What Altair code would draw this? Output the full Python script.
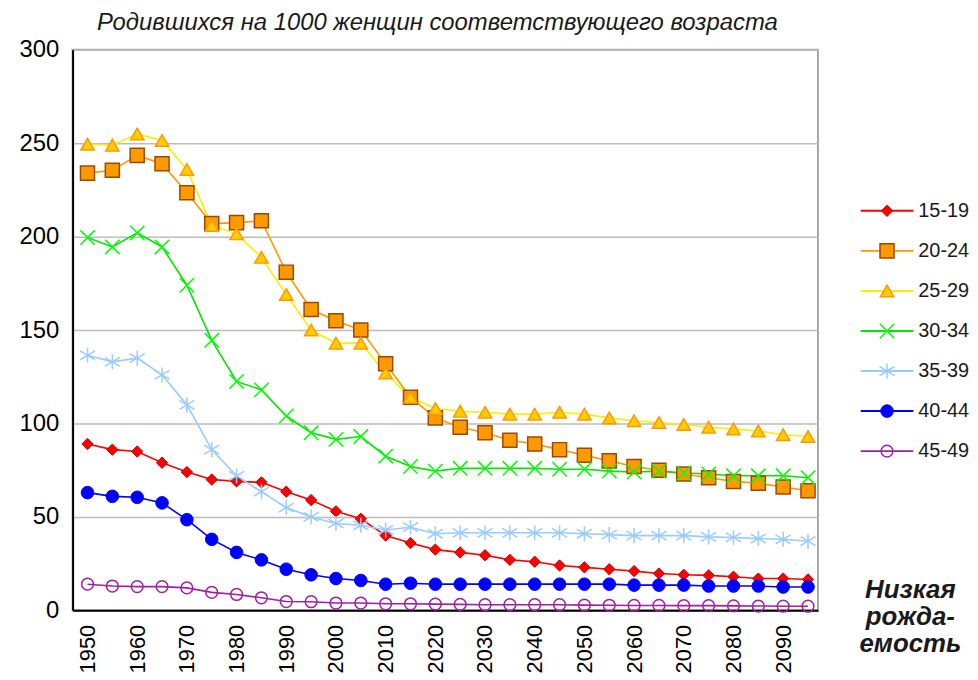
import altair as alt
import pandas as pd

years = [1950, 1955, 1960, 1965, 1970, 1975, 1980, 1985, 1990, 1995,
         2000, 2005, 2010, 2015, 2020, 2025, 2030, 2035, 2040, 2045,
         2050, 2055, 2060, 2065, 2070, 2075, 2080, 2085, 2090, 2095]

series_names = ["15-19", "20-24", "25-29", "30-34", "35-39", "40-44", "45-49"]

s15_19 = [89, 86, 85, 79, 74, 70, 69, 68.5, 63.5, 59, 53, 49, 40, 36, 32.5,
          31, 29.5, 27, 26, 24, 23, 22, 21, 19.7, 19, 18.7, 18, 17, 17, 16.5]
s20_24 = [234, 235.5, 243.5, 239, 223.5, 207, 207.5, 208.5, 181, 161, 155, 150,
          132, 114, 103, 98, 95, 91, 89, 86, 83, 80, 77, 75, 73, 71, 69, 68, 66, 64]
s25_29 = [249.5, 249, 255, 251.5, 236, 206, 201.5, 189, 169, 150, 143, 143, 127,
          114, 108, 106.5, 106, 105, 105, 106, 105, 103, 101.5, 100.5, 99.5, 98,
          97, 96, 94, 93]
s30_34 = [199.5, 194.5, 202, 194.5, 174, 144.5, 122.5, 118, 104, 95, 91.5, 93,
          82.5, 77, 74.5, 76, 76, 76, 76, 75.5, 75.5, 74.5, 74, 74.5, 73.5, 73,
          72, 72, 72, 71]
s35_39 = [136.5, 133, 135, 126, 110, 86, 72, 63.5, 55, 50, 46.5, 45.5, 43, 44.5,
          41, 41.5, 41.5, 41.5, 41.5, 41.5, 41, 40.5, 40, 40, 40, 39.3, 39, 38.4,
          38, 37]
s40_44 = [63, 61, 60.5, 57.5, 48.5, 38, 31, 27, 22, 19, 17, 16, 14, 14.5, 14,
          14, 14, 14, 14, 14, 14, 14, 13.5, 13.5, 13.5, 13, 13, 13, 12.5, 12.5]
s45_49 = [14, 13, 12.7, 12.7, 12, 9.6, 8.5, 6.7, 4.7, 4.6, 3.9, 3.9, 3.5, 3.5,
          3.3, 3.2, 3, 3, 3, 3, 2.8, 2.7, 2.6, 2.6, 2.5, 2.5, 2.4, 2.3, 2.2, 2.2]

all_values = [s15_19, s20_24, s25_29, s30_34, s35_39, s40_44, s45_49]

title_text = "Родившихся на 1000 женщин соответствующего возраста"
note_text = "Низкая\nрожда-\nемость"

X_PATH = "M-1,-1L1,1M-1,1L1,-1"
STAR_PATH = "M0,-1L0,1M-1,-0.6L1,0.6M-1,0.6L1,-0.6"

styles = {
    "15-19": dict(line="#ff0000", mark=dict(shape="diamond", size=130, filled=True,
                                             fill="#ff0000", stroke="#c00000", strokeWidth=1)),
    "20-24": dict(line="#ff9900", mark=dict(shape="square", size=200, filled=True,
                                             fill="#ff9900", stroke="#9a4a00", strokeWidth=1.5)),
    "25-29": dict(line="#ffee00", mark=dict(shape="triangle-up", size=180, filled=True,
                                             fill="#ffcc00", stroke="#ff9900", strokeWidth=1.5)),
    "30-34": dict(line="#00e600", mark=dict(shape=X_PATH, size=210, filled=False,
                                             stroke="#00ff00", strokeWidth=1.5)),
    "35-39": dict(line="#99ccff", mark=dict(shape=STAR_PATH, size=230, filled=False,
                                             stroke="#99ccff", strokeWidth=1.5)),
    "40-44": dict(line="#0000ff", mark=dict(shape="circle", size=160, filled=True,
                                             fill="#0000ff", stroke="#0000ff", strokeWidth=1)),
    "45-49": dict(line="#a020a0", mark=dict(shape="circle", size=140, filled=False,
                                             stroke="#a020a0", strokeWidth=1.5)),
}

rows = []
for name, vals in zip(series_names, all_values):
    for yr, v in zip(years, vals):
        rows.append({"year": yr, "value": v, "series": name})
df = pd.DataFrame(rows)

FONT = "Liberation Sans"

x_enc = alt.X("year:Q",
              scale=alt.Scale(domain=[1947, 2097], nice=False, zero=False),
              axis=alt.Axis(title=None, values=list(range(1950, 2100, 10)), format="d",
                            labelAngle=270, labelAlign="right", labelBaseline="middle",
                            labelPadding=14, labelFontSize=22, ticks=False,
                            grid=False, domainColor="#000000", domainWidth=2,
                            labelColor="#000000", labelFont=FONT))
y_enc = alt.Y("value:Q",
              scale=alt.Scale(domain=[0, 300], nice=False),
              axis=alt.Axis(title=None, values=[0, 50, 100, 150, 200, 250, 300],
                            labelPadding=14, labelFontSize=24, ticks=False,
                            grid=True, gridColor="#bdbdbd", gridWidth=1.5,
                            domainColor="#000000", domainWidth=2,
                            labelColor="#000000", labelFont=FONT,
                            minExtent=64, maxExtent=64))

layers = []
for name in series_names:
    st = styles[name]
    base = alt.Chart(df).transform_filter(alt.datum.series == name)
    layers.append(base.mark_line(color=st["line"], strokeWidth=1.6).encode(x=x_enc, y=y_enc))
for name in series_names:
    st = styles[name]
    base = alt.Chart(df).transform_filter(alt.datum.series == name)
    layers.append(base.mark_point(opacity=1, **st["mark"]).encode(x=x_enc, y=y_enc))

main = alt.layer(*layers).properties(
    width=750, height=564,
    title=alt.TitleParams(title_text, font=FONT, fontSize=24, fontStyle="italic",
                          fontWeight="normal", color="#1a1a1a", anchor="middle",
                          offset=3, dx=-8),
    view=alt.ViewBackground(stroke="#a6a6a6", strokeWidth=2),
)

# legend panel
leg_rows = [{"series": n, "idx": i, "x0": 10, "x1": 63, "xm": 36.5, "xt": 68}
            for i, n in enumerate(series_names)]
leg_df = pd.DataFrame(leg_rows)

lx = alt.Scale(domain=[0, 118], nice=False, zero=False)
ly = alt.Scale(domain=[-4.02, 9.975], nice=False, zero=False, reverse=True)

leg_layers = []
for name in series_names:
    st = styles[name]
    b = alt.Chart(leg_df).transform_filter(alt.datum.series == name)
    leg_layers.append(b.mark_rule(color=st["line"], strokeWidth=2).encode(
        x=alt.X("x0:Q", scale=lx, axis=None), x2="x1:Q",
        y=alt.Y("idx:Q", scale=ly, axis=None)))
    leg_layers.append(b.mark_point(opacity=1, **st["mark"]).encode(
        x=alt.X("xm:Q", scale=lx, axis=None),
        y=alt.Y("idx:Q", scale=ly, axis=None)))
    leg_layers.append(b.mark_text(align="left", baseline="middle", fontSize=20,
                                  font=FONT, color="#1a1a1a").encode(
        x=alt.X("xt:Q", scale=lx, axis=None),
        y=alt.Y("idx:Q", scale=ly, axis=None),
        text="series:N"))

note = alt.Chart(pd.DataFrame({"t": [note_text]})).mark_text(
    align="center", baseline="top", fontSize=26, fontStyle="italic", fontWeight="bold",
    font=FONT, color="#1a1a1a", lineBreak="\n", lineHeight=27
).encode(x=alt.value(60), y=alt.value(531), text="t:N")

legend = alt.layer(*leg_layers, note).properties(
    width=118, height=564,
    view=alt.ViewBackground(stroke="transparent"),
)

chart = alt.hconcat(main, legend, spacing=30).properties(padding=0).configure(
    font=FONT
).configure_view(stroke="transparent")

chart.save("out.html", embed_options={"renderer": "svg", "actions": False})
